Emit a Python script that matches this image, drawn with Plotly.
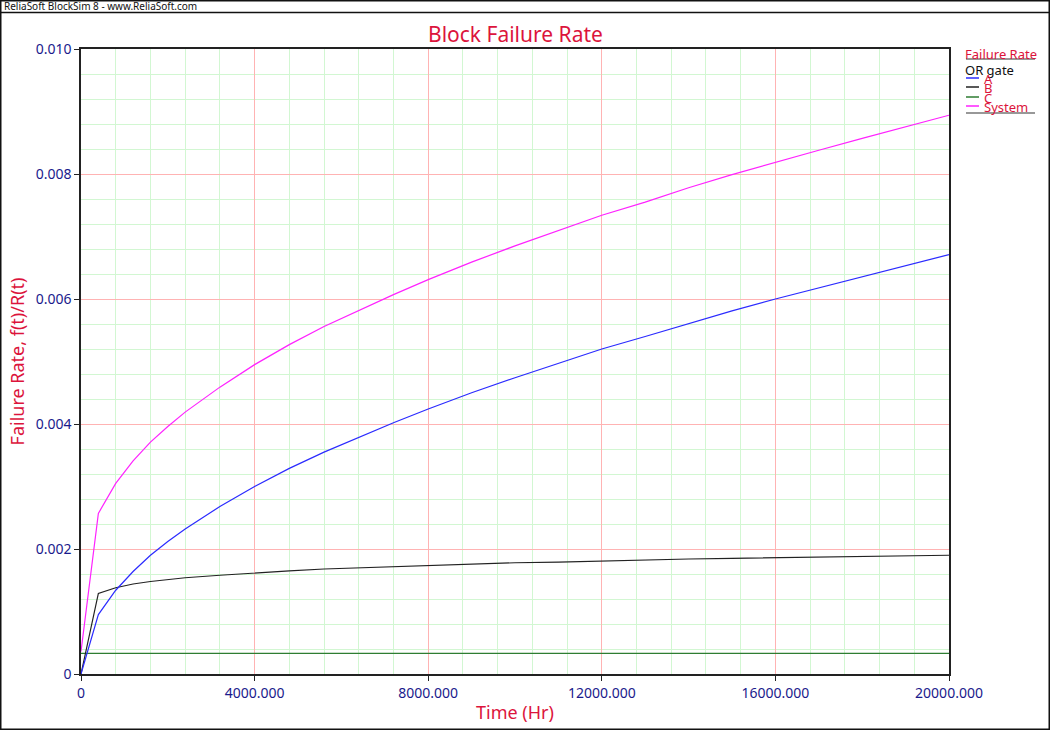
import plotly.graph_objects as go

# ---- data ----
time_hr = [0, 400, 800, 1200, 1600, 2000, 2400, 3200, 4000, 4800, 5600, 6400, 7200,
           8000, 9000, 10000, 11000, 12000, 13000, 14000, 15000, 16000, 17000, 18000,
           19000, 20000]
rate_A = [0.0, 0.00095, 0.00134, 0.00164, 0.00190, 0.00212, 0.00232, 0.00268, 0.00300,
          0.00329, 0.00355, 0.00379, 0.00402, 0.00424, 0.00450, 0.00474, 0.00497,
          0.00520, 0.00540, 0.00561, 0.00581, 0.00600, 0.00618, 0.00636, 0.00654, 0.00671]
rate_B = [0.0, 0.00129, 0.00138, 0.00144, 0.00148, 0.00151, 0.00154, 0.00158, 0.00162,
          0.00165, 0.00168, 0.00170, 0.00172, 0.00174, 0.00176, 0.00178, 0.00179,
          0.00181, 0.00182, 0.00184, 0.00185, 0.00186, 0.00187, 0.00188, 0.00189, 0.00190]
rate_C = [0.00033] * len(time_hr)
rate_system = [0.00036, 0.00257, 0.00305, 0.00341, 0.00371, 0.00396, 0.00419, 0.00459,
               0.00495, 0.00527, 0.00556, 0.00582, 0.00607, 0.00631, 0.00659, 0.00685,
               0.00709, 0.00734, 0.00755, 0.00778, 0.00799, 0.00819, 0.00838, 0.00857,
               0.00876, 0.00894]

x_tickvals = [0, 4000, 8000, 12000, 16000, 20000]
x_ticktext = ["0", "4000.000", "8000.000", "12000.000", "16000.000", "20000.000"]
y_tickvals = [0, 0.002, 0.004, 0.006, 0.008, 0.010]
y_ticktext = ["0", "0.002", "0.004", "0.006", "0.008", "0.010"]

series_names = ["A", "B", "C", "System"]
series_colors = ["#2b2bff", "#222222", "#2e7d32", "#ff22ff"]
series_values = [rate_A, rate_B, rate_C, rate_system]

FONT = "Noto Sans"
RED = "#dc143c"
NAVY = "#1a1a8c"

W, H = 1050, 730
L, R, T, B = 81, 949, 49, 674


def px(x):
    return (x - L) / (R - L)


def py(y):
    return (B - y) / (B - T)


fig = go.Figure()
# draw order: C, B, A, System
for i in [2, 1, 0, 3]:
    fig.add_trace(go.Scatter(x=time_hr, y=series_values[i], mode="lines",
                             line=dict(color=series_colors[i], width=1.2),
                             name=series_names[i], showlegend=False,
                             hoverinfo="x+y+name"))

axis_common = dict(
    showline=True, linecolor="#222222", linewidth=1.5, mirror=True,
    ticks="outside", ticklen=5, tickcolor="#222222",
    tickfont=dict(family=FONT, size=14, color=NAVY),
    showgrid=True, gridcolor="#ffb3b3", gridwidth=1, zeroline=False,
)

fig.update_xaxes(range=[0, 20000], tickvals=x_tickvals, ticktext=x_ticktext,
                 minor=dict(dtick=800, showgrid=True, gridcolor="#d2f7d2", gridwidth=1,
                            ticks=""),
                 title=dict(text="Time (Hr)", font=dict(family=FONT, size=18, color=RED),
                            standoff=6),
                 **axis_common)
fig.update_yaxes(range=[0, 0.010], tickvals=y_tickvals, ticktext=y_ticktext,
                 minor=dict(dtick=0.0004, showgrid=True, gridcolor="#d2f7d2", gridwidth=1,
                            ticks=""),
                 title=dict(text="Failure Rate, f(t)/R(t)",
                            font=dict(family=FONT, size=18, color=RED), standoff=6),
                 **axis_common)

shapes = []
annotations = []

# outer frame and header line
shapes.append(dict(type="rect", xref="paper", yref="paper",
                   x0=px(0.75), x1=px(W - 0.75), y0=py(H - 0.75), y1=py(0.75),
                   line=dict(color="#111111", width=1.5), layer="above"))
shapes.append(dict(type="line", xref="paper", yref="paper",
                   x0=px(0), x1=px(W), y0=py(12.5), y1=py(12.5),
                   line=dict(color="#111111", width=1.5)))
annotations.append(dict(xref="paper", yref="paper", x=px(2), y=py(6.5),
                        xanchor="left", yanchor="middle", showarrow=False,
                        text="ReliaSoft BlockSim 8 - www.ReliaSoft.com",
                        font=dict(family=FONT, size=10, color="#111111")))
# title
annotations.append(dict(xref="paper", yref="paper", x=px(515), y=py(34),
                        xanchor="center", yanchor="middle", showarrow=False,
                        text="Block Failure Rate",
                        font=dict(family=FONT, size=21, color=RED)))

# legend
annotations.append(dict(xref="paper", yref="paper", x=px(963), y=py(54),
                        xanchor="left", yanchor="middle", showarrow=False,
                        text="Failure Rate", font=dict(family=FONT, size=13, color=RED)))
shapes.append(dict(type="line", xref="paper", yref="paper",
                   x0=px(966), x1=px(1035), y0=py(59), y1=py(59),
                   line=dict(color="#333333", width=1.2)))
annotations.append(dict(xref="paper", yref="paper", x=px(963), y=py(70),
                        xanchor="left", yanchor="middle", showarrow=False,
                        text="OR gate", font=dict(family=FONT, size=13, color="#111111")))
leg_y = [78, 87, 97, 106]
for name, color, yy in zip(series_names, series_colors, leg_y):
    shapes.append(dict(type="line", xref="paper", yref="paper",
                       x0=px(966), x1=px(979), y0=py(yy), y1=py(yy),
                       line=dict(color=color, width=1.5)))
    annotations.append(dict(xref="paper", yref="paper", x=px(982), y=py(yy + 1),
                            xanchor="left", yanchor="middle", showarrow=False,
                            text=name, font=dict(family=FONT, size=13, color=RED)))
shapes.append(dict(type="line", xref="paper", yref="paper",
                   x0=px(966), x1=px(1035), y0=py(113), y1=py(113),
                   line=dict(color="#333333", width=1.2)))

fig.update_layout(
    width=W, height=H,
    margin=dict(l=L, r=W - R, t=T, b=H - B, autoexpand=False),
    paper_bgcolor="white", plot_bgcolor="white",
    showlegend=False,
    shapes=shapes, annotations=annotations,
    font=dict(family=FONT),
)

fig.write_html("out.html",
               config={"displayModeBar": False},
               post_script="document.body.style.margin='0';"
                           "document.body.style.overflow='hidden';")
